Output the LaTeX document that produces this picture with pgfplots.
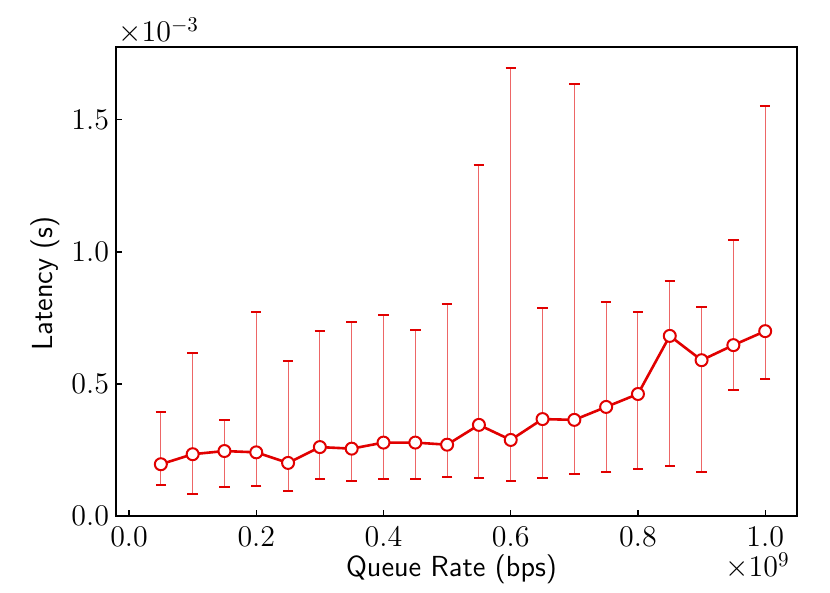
\RequirePackage{fix-cm}
\documentclass[border=0pt]{standalone}
\usepackage{pgfplots}
\pgfplotsset{compat=1.18}
\usepackage{pgfplotstable}
\definecolor{lred}{RGB}{225,0,0}
\pgfplotstableread{
x y ep em
0.05 0.196 0.198 0.079
0.10 0.234 0.383 0.151
0.15 0.246 0.116 0.137
0.20 0.241 0.530 0.129
0.25 0.201 0.386 0.108
0.30 0.261 0.441 0.122
0.35 0.255 0.478 0.122
0.40 0.278 0.483 0.139
0.45 0.278 0.428 0.137
0.50 0.270 0.532 0.121
0.55 0.345 0.986 0.200
0.60 0.288 1.408 0.155
0.65 0.367 0.422 0.223
0.70 0.364 1.270 0.206
0.75 0.413 0.399 0.245
0.80 0.462 0.309 0.285
0.85 0.682 0.209 0.493
0.90 0.590 0.202 0.425
0.95 0.647 0.397 0.170
1.00 0.700 0.852 0.180
}\data
\begin{document}
\begin{tikzpicture}
\useasboundingbox (-58pt,-38.5pt) rectangle (357pt,258pt);
\begin{axis}[
  at={(0,0)}, anchor=south west, scale only axis,
  width=340.5pt, height=234.5pt,
  xmin=-0.0205, xmax=1.05, ymin=0, ymax=1.776,
  xtick={0,0.2,0.4,0.6,0.8,1.0}, ytick={0,0.5,1.0,1.5},
  scaled ticks=false,
  tick pos=left, tick align=inside, major tick length=2.8pt,
  every tick/.style={black, line width=0.6pt},
  axis line style={line width=0.8pt},
  ticklabel style={font=\fontsize{15}{18}\selectfont,
    /pgf/number format/fixed, /pgf/number format/fixed zerofill,
    /pgf/number format/precision=1},
  xticklabel style={inner sep=0pt, yshift=-5.3pt},
  yticklabel style={inner sep=0pt, xshift=-3.3pt},
  xlabel={Queue Rate (bps)}, ylabel={Latency (s)},
  every axis x label/.style={at={(axis description cs:0.4927,0)}, anchor=base,
    yshift=-30.5pt, font=\sffamily\fontsize{14.5}{17}\selectfont},
  every axis y label/.style={at={([xshift=-31.5pt]axis description cs:0,0.496)},
    rotate=90, anchor=base, font=\sffamily\fontsize{14.5}{17}\selectfont},
  clip=false,
]
\addplot[draw=none, mark=none, forget plot,
  error bars/.cd, y dir=both, y explicit,
  error bar style={line width=0.5pt, draw=lred, draw opacity=0.6},
  error mark options={rotate=90, line width=1pt, mark size=2.6pt, draw=lred, draw opacity=1}]
  table[x=x, y=y, y error plus=ep, y error minus=em] {\data};
\addplot[lred, line width=1.3pt, mark=*, mark size=3pt,
  mark options={fill=white, draw=lred, line width=1pt, solid}]
  table[x=x, y=y] {\data};
\node[anchor=base west, inner sep=0pt, font=\fontsize{15}{18}\selectfont]
  at (axis description cs:0,1) [xshift=1pt, yshift=2.5pt] {$\times10^{-3}$};
\node[anchor=base east, inner sep=0pt, font=\fontsize{15}{18}\selectfont]
  at (axis description cs:1,0) [xshift=-3.5pt, yshift=-30.5pt] {$\times10^{9}$};
\end{axis}
\end{tikzpicture}
\end{document}
